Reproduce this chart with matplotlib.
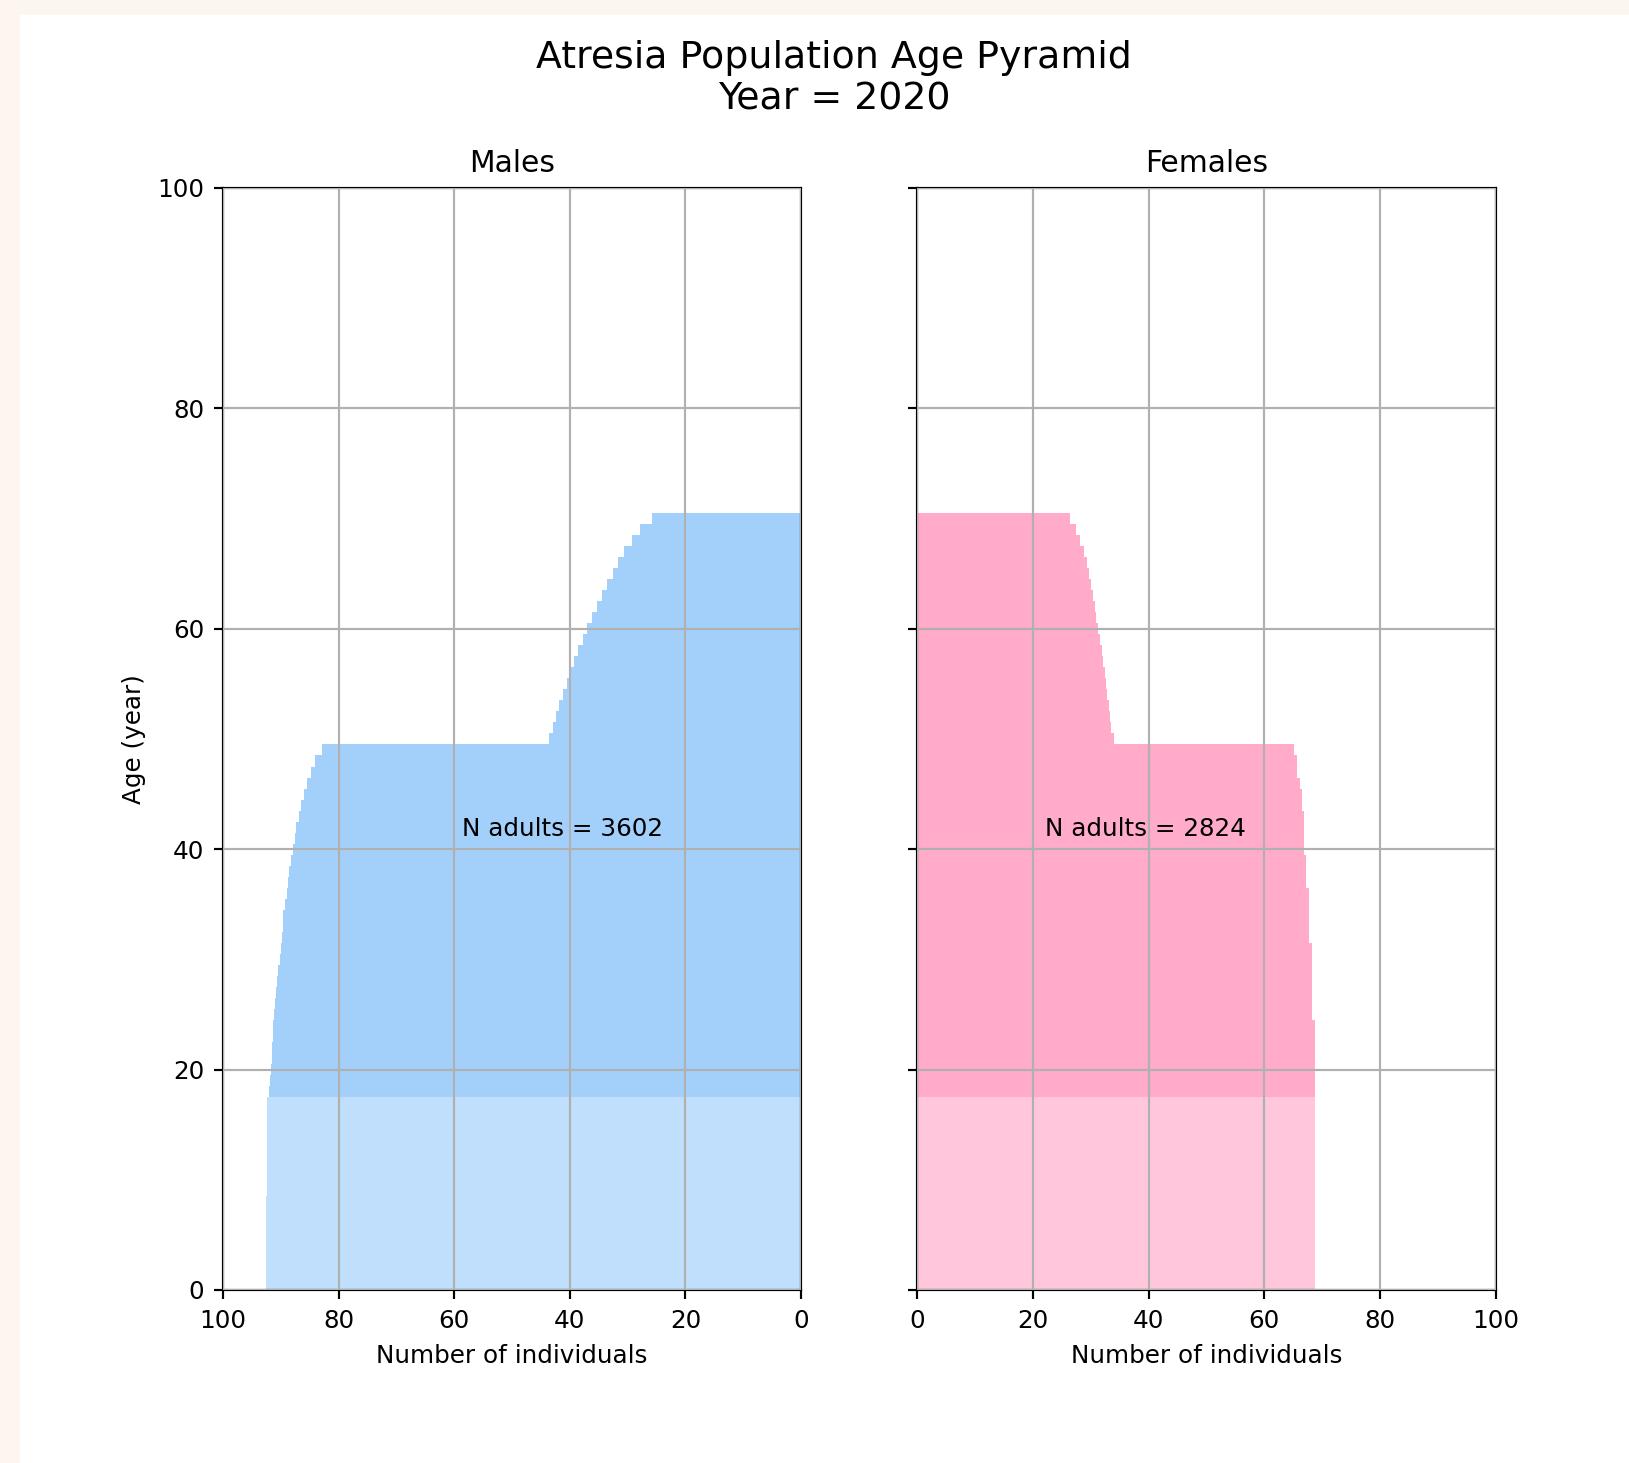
import matplotlib
matplotlib.use("Agg")
import matplotlib.pyplot as plt
from matplotlib.patches import Rectangle

# ages 0..70, one bar per year
ages = list(range(71))
adult_age = 18

male_counts = [
    92.6, 92.6, 92.6, 92.6, 92.6, 92.6, 92.6, 92.6, 92.6,
    92.4, 92.4, 92.4, 92.4, 92.4, 92.4, 92.4, 92.4, 92.4,
    92.1, 91.8, 91.7, 91.6, 91.5, 91.4, 91.3, 91.2, 91.0, 90.8,
    90.6, 90.4, 90.2, 90.0, 89.8, 89.7, 89.6, 89.3, 89.0, 88.8,
    88.5, 88.2, 87.9, 87.6, 87.3, 86.9, 86.5, 86.0, 85.5, 84.8,
    84.0, 82.9,
    43.6, 42.9, 42.3, 41.8, 41.2, 40.5, 39.8, 39.2, 38.5, 37.8,
    37.1, 36.2, 35.3, 34.5, 33.6, 32.6, 31.7, 30.6, 29.3, 27.8,
    25.8,
]

female_counts = [
    68.7, 68.7, 68.7, 68.7, 68.7, 68.7, 68.7, 68.7, 68.7,
    68.7, 68.7, 68.7, 68.7, 68.7, 68.7, 68.7, 68.7, 68.7,
    68.7, 68.7, 68.7, 68.7, 68.7, 68.7, 68.7,
    68.3, 68.3, 68.3, 68.3, 68.3, 68.3, 68.3,
    67.8, 67.8, 67.8, 67.8, 67.8,
    67.2, 67.2, 67.2,
    66.9, 66.9, 66.9, 66.9,
    66.5, 66.5, 66.2, 65.7, 65.7, 65.1,
    34.0, 33.6, 33.3, 33.1, 32.9, 32.7, 32.5, 32.2, 31.9, 31.6,
    31.3, 31.0, 30.7, 30.4, 30.1, 29.7, 29.3, 28.8, 28.2, 27.4,
    26.5,
]

n_adults_male = 3602
n_adults_female = 2824
year = 2020

male_colors = {"juvenile": "#bfdffc", "adult": "#a2d0fb"}
female_colors = {"juvenile": "#ffc6dc", "adult": "#ffabc9"}

plt.rcParams["font.size"] = 9.1
plt.rcParams["axes.titlesize"] = 11


def draw_side(ax, counts, colors, n_adults, text_x):
    juv = [a for a in ages if a < adult_age]
    adu = [a for a in ages if a >= adult_age]
    ax.barh(juv, [counts[a] for a in juv], height=1.0,
            color=colors["juvenile"], linewidth=0)
    ax.barh(adu, [counts[a] for a in adu], height=1.0,
            color=colors["adult"], linewidth=0)
    ax.set_ylim(0, 100)
    ax.set_xticks([0, 20, 40, 60, 80, 100])
    ax.set_yticks([0, 20, 40, 60, 80, 100])
    ax.grid(True, color="#b0b0b0", linewidth=0.8)
    ax.set_axisbelow(False)
    ax.set_xlabel("Number of individuals")
    ax.text(text_x, 41.8, "N adults = %d" % n_adults,
            ha="center", va="center")


def main():
    fig = plt.figure(figsize=(1629 / 195, 1463 / 195), dpi=195)
    fig.patch.set_facecolor("white")
    fig.add_artist(Rectangle((0, 0), 18 / 1629, 1, transform=fig.transFigure,
                             color="#fdf6ef", zorder=-10))
    fig.add_artist(Rectangle((0, 1 - 13 / 1463), 1, 13 / 1463,
                             transform=fig.transFigure,
                             color="#fdf6ef", zorder=-10))

    ax_m = fig.add_axes([0.1369, 0.1183, 0.3548, 0.7532])
    ax_f = fig.add_axes([0.5629, 0.1183, 0.3554, 0.7532], sharey=ax_m)

    draw_side(ax_m, male_counts, male_colors, n_adults_male, 41.2)
    ax_m.set_xlim(100, 0)
    ax_m.set_title("Males")
    ax_m.set_ylabel("Age (year)")

    draw_side(ax_f, female_counts, female_colors, n_adults_female, 39.5)
    ax_f.set_xlim(0, 100)
    ax_f.set_title("Females")
    ax_f.tick_params(labelleft=False)

    fig.text(0.512, 1 - 79 / 1463,
             "Atresia Population Age Pyramid\nYear = %d" % year,
             ha="center", va="center", fontsize=14, linespacing=1.2)

    fig.savefig("out.png", dpi=195)


if __name__ == "__main__":
    main()
